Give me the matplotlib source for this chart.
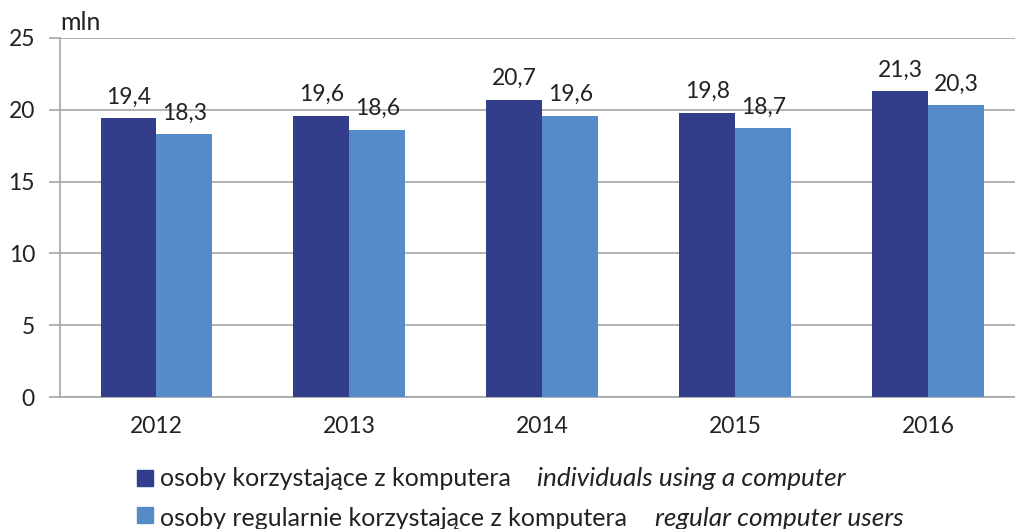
import matplotlib.pyplot as plt
from matplotlib.patches import Rectangle
import numpy as np

plt.rcParams['font.family'] = ['Lato', 'DejaVu Sans']

years = ['2012', '2013', '2014', '2015', '2016']
users = [19.4, 19.6, 20.7, 19.8, 21.3]
regular_users = [18.3, 18.6, 19.6, 18.7, 20.3]

dark = '#323E8C'
light = '#558BC9'
grid_c = '#A6A6A6'
txt_c = '#222222'

fig = plt.figure(figsize=(10.15, 5.29), dpi=100)
ax = fig.add_axes([60 / 1015, 1 - 397 / 529, 1 - 60 / 1015, (397 - 38) / 529])

x = np.arange(len(years))
w = 0.29
b1 = ax.bar(x - w / 2, users, w, color=dark, zorder=3)
b2 = ax.bar(x + w / 2, regular_users, w, color=light, zorder=3)

for bars, vals in ((b1, users), (b2, regular_users)):
    for r, v in zip(bars, vals):
        ax.text(r.get_x() + r.get_width() / 2, v + 0.75, f'{v:.1f}'.replace('.', ','),
                ha='center', va='bottom', fontsize=16.5, color=txt_c)

ax.set_ylim(0, 25)
ax.set_xlim(-0.5, 4.45)
ax.set_yticks([0, 5, 10, 15, 20, 25])
ax.set_xticks(x)
ax.set_xticklabels(years)
ax.yaxis.grid(True, color=grid_c, linewidth=1.2, zorder=0)
for s in ('top', 'right'):
    ax.spines[s].set_visible(False)
ax.spines['left'].set_color(grid_c)
ax.spines['bottom'].set_color(grid_c)
ax.spines['left'].set_linewidth(1.2)
ax.spines['bottom'].set_linewidth(1.2)
ax.tick_params(axis='y', length=8, color=grid_c, width=1.2, labelsize=16.5, pad=10, labelcolor=txt_c)
ax.tick_params(axis='x', length=0, labelsize=16.5, pad=14, labelcolor=txt_c)

fig.text(60 / 1015, 1 - 22 / 529, 'mln', fontsize=18, va='center', ha='left', color=txt_c)

# legend drawn by hand: Polish label + English label in italics
rows = [(dark, 'osoby korzystające z komputera', 'individuals using a computer', 478, 478, 537),
        (light, 'osoby regularnie korzystające z komputera', 'regular computer users', 515, 519, 655)]
for color, pl, en, ysq, yt, xen in rows:
    fig.patches.append(Rectangle((137 / 1015, 1 - (ysq + 8) / 529), 16 / 1015, 16 / 529,
                                 transform=fig.transFigure, color=color))
    fig.text(160 / 1015, 1 - yt / 529, pl, fontsize=18, va='center', ha='left', color=txt_c)
    fig.text(xen / 1015, 1 - yt / 529, en, fontsize=18.8, va='center', ha='left',
             style='italic', color=txt_c)

fig.savefig('out.png', dpi=100)
